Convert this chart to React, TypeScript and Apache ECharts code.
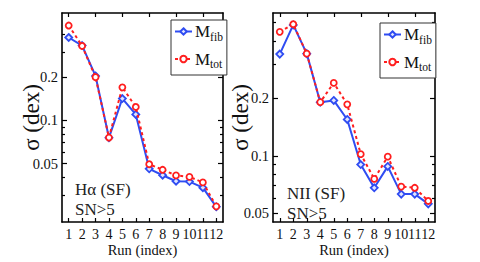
import React, { useEffect, useRef } from 'react';
import * as echarts from 'echarts';

const runs = ['1', '2', '3', '4', '5', '6', '7', '8', '9', '10', '11', '12'];
const haFib = [0.378, 0.332, 0.204, 0.0758, 0.142, 0.11, 0.046, 0.0415, 0.0377, 0.0375, 0.034, 0.025];
const haTot = [0.458, 0.33, 0.2, 0.076, 0.17, 0.124, 0.0495, 0.0453, 0.0414, 0.0404, 0.037, 0.0252];
const niiFib = [0.341, 0.485, 0.343, 0.191, 0.195, 0.155, 0.09, 0.068, 0.088, 0.063, 0.063, 0.056];
const niiTot = [0.446, 0.489, 0.343, 0.191, 0.241, 0.186, 0.102, 0.0757, 0.099, 0.069, 0.068, 0.058];

const leftRange = [0.0196, 0.56];
const rightRange = [0.045, 0.56];
const majorTicks = [0.05, 0.1, 0.2];
const leftMinorTicks = [0.03, 0.04, 0.06, 0.07, 0.08, 0.09, 0.3, 0.4];
const rightMinorTicks = [0.06, 0.07, 0.08, 0.09, 0.3, 0.4, 0.5];

const panelTitles = ['H\u03b1 (SF)', 'NII (SF)'];
const panelSubtitles = ['SN>5', 'SN>5'];

const SERIF = 'Liberation Serif';
const BLUE = '#2f4cf2';
const RED = '#ff1e1e';
const lg = (v: number) => Math.log10(v);
const fmt = (v: number) => String(parseFloat(Math.pow(10, v).toPrecision(2)));

export default function App() {
  const ref = useRef<HTMLDivElement>(null);
  useEffect(() => {
    if (!ref.current) return;
    const chart = echarts.init(ref.current, null, { renderer: 'svg' });
    const grids = [
      { left: 62, top: 13, width: 161, height: 215 },
      { left: 273, top: 13, width: 162, height: 215 },
    ];
    const ranges = [leftRange, rightRange];
    const minors = [leftMinorTicks, rightMinorTicks];
    const nameGaps = [19, 21];
    const xAxis: any[] = [];
    const yAxis: any[] = [];
    const axisLine = { show: true, lineStyle: { color: '#000', width: 1.6 } };
    const tickLine = { color: '#000', width: 1.2 };
    [0, 1].forEach((g) => {
      xAxis.push({
        type: 'category', gridIndex: g, data: runs, position: 'bottom', boundaryGap: true,
        axisLine, axisTick: { show: true, inside: true, alignWithLabel: true, length: 4, lineStyle: tickLine },
        axisLabel: { interval: 0, margin: 5, fontSize: 14, color: '#111', fontFamily: SERIF },
        name: 'Run (index)', nameLocation: 'middle', nameGap: 20, nameMoveOverlap: false,
        nameTextStyle: { fontSize: 14.5, color: '#111', fontFamily: SERIF },
      });
      xAxis.push({
        type: 'category', gridIndex: g, data: runs, position: 'top', boundaryGap: true,
        axisLine, axisTick: { show: true, inside: true, alignWithLabel: true, length: 4, lineStyle: tickLine },
        axisLabel: { show: false },
      });
      const [mn, mx] = ranges[g];
      const base = { type: 'value', gridIndex: g, min: lg(mn), max: lg(mx), splitLine: { show: false } };
      const majorVals = majorTicks.map(lg);
      const minorVals = minors[g].map(lg);
      yAxis.push({
        ...base, position: 'left', axisLine,
        axisTick: { show: true, inside: true, length: 5, customValues: majorVals, lineStyle: tickLine },
        axisLabel: { show: true, customValues: majorVals, formatter: (v: number) => fmt(v), margin: 4, fontSize: 14.5, color: '#111', fontFamily: SERIF },
        name: '\u03c3 (dex)', nameLocation: 'middle', nameGap: nameGaps[g], nameMoveOverlap: false,
        nameTextStyle: { fontSize: 23, color: '#111', fontFamily: SERIF },
      });
      yAxis.push({
        ...base, position: 'left', axisLine: { show: false },
        axisTick: { show: true, inside: true, length: 3, customValues: minorVals, lineStyle: tickLine },
        axisLabel: { show: false, customValues: minorVals },
      });
      yAxis.push({
        ...base, position: 'right', axisLine,
        axisTick: { show: true, inside: true, length: 5, customValues: majorVals, lineStyle: tickLine },
        axisLabel: { show: false, customValues: majorVals },
      });
      yAxis.push({
        ...base, position: 'right', axisLine: { show: false },
        axisTick: { show: true, inside: true, length: 3, customValues: minorVals, lineStyle: tickLine },
        axisLabel: { show: false, customValues: minorVals },
      });
    });
    const mkFib = (name: string, data: number[], g: number) => ({
      name, type: 'line', xAxisIndex: g * 2, yAxisIndex: g * 4,
      data: data.map(lg), symbol: 'diamond', symbolSize: 7, showSymbol: true,
      lineStyle: { color: BLUE, width: 2 },
      itemStyle: { color: '#dfe4ff', borderColor: BLUE, borderWidth: 1.8 },
      z: 3,
    });
    const mkTot = (name: string, data: number[], g: number) => ({
      name, type: 'line', xAxisIndex: g * 2, yAxisIndex: g * 4,
      data: data.map(lg), symbol: 'circle', symbolSize: 6, showSymbol: true,
      lineStyle: { color: RED, width: 2, type: [3, 3] },
      itemStyle: { color: '#ffffff', borderColor: RED, borderWidth: 1.8 },
      z: 4,
    });
    const legendCommon = {
      orient: 'vertical', itemWidth: 17, itemHeight: 8, itemGap: 8,
      backgroundColor: '#fff', borderColor: '#333', borderWidth: 1,
      padding: [3, 4, 5, 3],
      formatter: (name: string) => (name.startsWith('fib') ? '{m|M}{s|fib}' : '{m|M}{s|tot}'),
      textStyle: {
        color: '#111', padding: [0, 0, 0, -2],
        rich: {
          m: { fontSize: 17, fontFamily: SERIF, color: '#111' },
          s: { fontSize: 11.5, fontFamily: SERIF, color: '#111', padding: [10, 0, 0, 0] },
        },
      },
      selectedMode: false,
    };
    const graphic: any[] = [];
    const textPos = [[75, 181, 201], [287, 185, 205]];
    [0, 1].forEach((g) => {
      graphic.push({ type: 'text', left: textPos[g][0], top: textPos[g][1], style: { text: panelTitles[g], fontSize: 17, fontFamily: SERIF, fill: '#222' } });
      graphic.push({ type: 'text', left: textPos[g][0], top: textPos[g][2], style: { text: panelSubtitles[g], fontSize: 17, fontFamily: SERIF, fill: '#222' } });
    });
    chart.setOption({
      animation: false,
      backgroundColor: '#fff',
      grid: grids,
      xAxis, yAxis,
      legend: [
        { ...legendCommon, left: 171, top: 20, data: ['fibL', 'totL'] },
        { ...legendCommon, left: 380, top: 23, data: ['fibR', 'totR'] },
      ],
      graphic,
      series: [
        mkFib('fibL', haFib, 0), mkTot('totL', haTot, 0),
        mkFib('fibR', niiFib, 1), mkTot('totR', niiTot, 1),
      ],
    });
    return () => chart.dispose();
  }, []);
  return <div ref={ref} style={{ position: 'fixed', left: 0, top: 0, width: 480, height: 262 }} />;
}
